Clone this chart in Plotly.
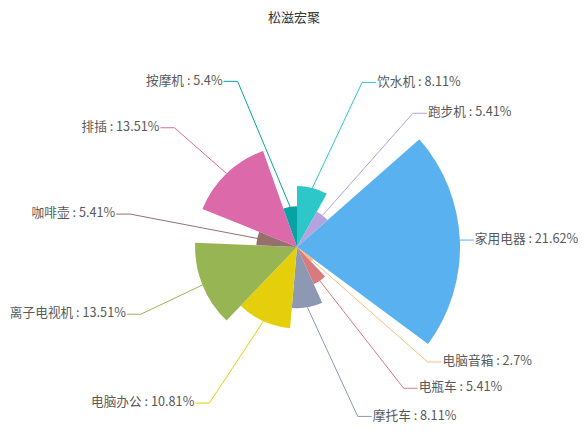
import numpy as np
import plotly.graph_objects as go

# 数据
names = ["饮水机", "跑步机", "家用电器", "电脑音箱", "电瓶车", "摩托车",
         "电脑办公", "离子电视机", "咖啡壶", "排插", "按摩机"]
counts = [3, 2, 8, 1, 2, 3, 4, 5, 2, 5, 2]
pct_labels = ["8.11%", "5.41%", "21.62%", "2.7%", "5.41%", "8.11%",
              "10.81%", "13.51%", "5.41%", "13.51%", "5.4%"]
title_text = "松滋宏聚"

# macarons 主题色
colors = ["#2ec7c9", "#b6a2de", "#5ab1ef", "#ffb980", "#d87a80", "#8d98b3",
          "#e5cf0d", "#97b552", "#95706d", "#dc69aa", "#07a2a4"]

# 版面 (像素, 页面有 8px 边距)
W, H = 588, 437
cx, cy = 289, 239          # 圆心
r_max_px = 163             # 最大扇区半径
dom_px = H - cy            # 极坐标区域半径
px = r_max_px / max(counts)  # 每单位像素
r_range = dom_px / px

# 标签引导线的微调
label_dtheta = [7, 2, 0, 0, -3, -10, 5, -1.4, -1, -2, -10]
label_dr = [0, 0, -14, -3, 0, 3, 2, -7, -7, -6, -1]
label_r = 177
seg2 = 14

total = sum(counts)
widths = [c / total * 360 for c in counts]
starts = np.cumsum([0] + widths[:-1])
mids = [s + w / 2 for s, w in zip(starts, widths)]

fig = go.Figure()
fig.add_trace(go.Barpolar(
    r=counts, theta=mids, width=widths,
    marker=dict(color=colors, line=dict(width=0)),
    hoverinfo='skip', showlegend=False))


def to_polar(x, y):
    return np.hypot(x, y), np.degrees(np.arctan2(x, y)) % 360


txt_r_right, txt_t_right, txt_right = [], [], []
txt_r_left, txt_t_left, txt_left = [], [], []
for i, name in enumerate(names):
    th = mids[i] + label_dtheta[i]
    rb = (label_r + label_dr[i]) / px
    bx, by = rb * np.sin(np.radians(th)), rb * np.cos(np.radians(th))
    side = 1 if bx >= 0 else -1
    ex = bx + side * seg2 / px
    er, et = to_polar(ex, by)
    fig.add_trace(go.Scatterpolar(
        r=[counts[i], rb, er], theta=[mids[i], th % 360, et],
        mode='lines', line=dict(color=colors[i], width=1),
        hoverinfo='skip', showlegend=False))
    tr, tt = to_polar(ex + side * 1 / px, by)
    label = f"{name} : {pct_labels[i]}"
    if side > 0:
        txt_r_right.append(tr); txt_t_right.append(tt); txt_right.append(label)
    else:
        txt_r_left.append(tr); txt_t_left.append(tt); txt_left.append(label)

font = dict(family="Noto Sans CJK SC", size=12.7, color="#595959")
fig.add_trace(go.Scatterpolar(
    r=txt_r_right, theta=txt_t_right, text=txt_right, mode='text',
    textposition='middle right', textfont=font, cliponaxis=False,
    hoverinfo='skip', showlegend=False))
fig.add_trace(go.Scatterpolar(
    r=txt_r_left, theta=txt_t_left, text=txt_left, mode='text',
    textposition='middle left', textfont=font, cliponaxis=False,
    hoverinfo='skip', showlegend=False))

fig.update_layout(
    width=W, height=H,
    margin=dict(l=0, r=0, t=0, b=0),
    paper_bgcolor='white',
    title=dict(text=title_text, x=286 / W, xanchor='center', y=1 - 9 / H, yanchor='middle',
               font=dict(family="Noto Sans CJK SC", size=13, color="#333333")),
    polar=dict(
        domain=dict(x=[(cx - dom_px) / W, (cx + dom_px) / W],
                    y=[0, 2 * dom_px / H]),
        bgcolor='white',
        bargap=0,
        angularaxis=dict(visible=False, rotation=90, direction='clockwise'),
        radialaxis=dict(visible=False, range=[0, r_range]),
    ),
)

fig.write_html("out.html")
